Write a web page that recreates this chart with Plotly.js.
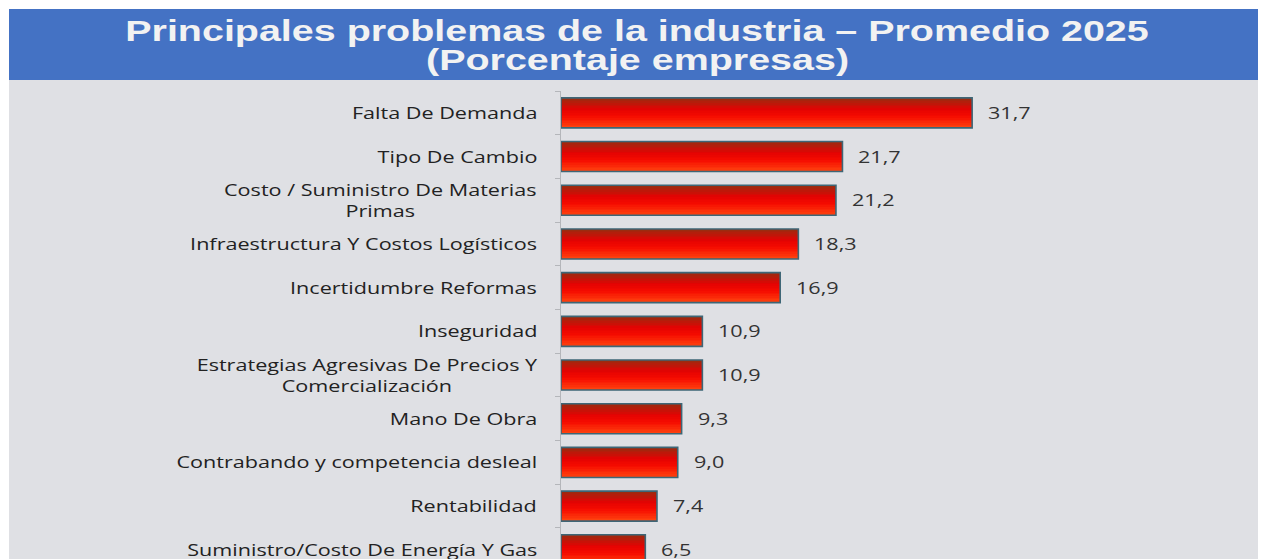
<!DOCTYPE html>
<html><head><meta charset="utf-8">
<script src="https://cdn.plot.ly/plotly-3.0.1.min.js"></script>
<style>html,body{margin:0;padding:0;background:#fff;} #chart{width:1261px;height:559px;}</style>
</head><body><div id="chart"></div>
<script>
// ---- data ----
const categories = [
  'Falta De Demanda',
  'Tipo De Cambio',
  'Costo / Suministro De Materias<br>Primas',
  'Infraestructura Y Costos Logísticos',
  'Incertidumbre Reformas',
  'Inseguridad',
  'Estrategias Agresivas De Precios Y<br>Comercialización',
  'Mano De Obra',
  'Contrabando y competencia desleal',
  'Rentabilidad',
  'Suministro/Costo De Energía Y Gas'
];
const values = [31.7, 21.7, 21.2, 18.3, 16.9, 10.9, 10.9, 9.3, 9.0, 7.4, 6.5];
const valueLabels = ['31,7', '21,7', '21,2', '18,3', '16,9', '10,9', '10,9', '9,3', '9,0', '7,4', '6,5'];
const titleLine1 = 'Principales problemas de la industria – Promedio 2025';
const titleLine2 = '(Porcentaje empresas)';

// ---- geometry (pixels) ----
const W = 1261, H = 559;
const L = 561, R = 1258, T = 91, B = 559;
const px2x = p => (p - L) / (R - L);
const px2y = p => (B - p) / (B - T);
const pxPerUnit = 12.97;
const xMax = (R - L) / pxPerUnit;
const TITLE_STRETCH = 1.36, LABEL_STRETCH = 1.35;

// ---- gradient bar as stacked strips ----
const BW = 0.687, N = 18;
const stops = [[0, [150, 46, 16]], [0.38, [228, 2, 2]], [0.62, [246, 12, 0]], [1, [255, 70, 16]]];
function gradColor(t) {
  for (let k = 0; k < stops.length - 1; k++) {
    const [t0, c0] = stops[k], [t1, c1] = stops[k + 1];
    if (t >= t0 && t <= t1) {
      const f = (t - t0) / (t1 - t0);
      const c = c0.map((v, j) => Math.round(v + (c1[j] - v) * f));
      return 'rgb(' + c.join(',') + ')';
    }
  }
  return 'rgb(255,70,16)';
}
const traces = [];
for (let i = 0; i < N; i++) {
  traces.push({
    type: 'bar', orientation: 'h', x: values, y: categories,
    width: BW / N + 0.002, offset: -BW / 2 + i * BW / N,
    marker: {color: gradColor((i + 0.5) / N), line: {width: 0}},
    hoverinfo: 'skip', showlegend: false
  });
}
traces.push({
  type: 'bar', orientation: 'h', x: values, y: categories,
  width: BW, offset: -BW / 2,
  marker: {color: 'rgba(0,0,0,0)', line: {color: '#3E6676', width: 1.6}},
  hoverinfo: 'skip', showlegend: false
});

const annotations = [];
categories.forEach((c, i) => {
  annotations.push({
    xref: 'paper', x: 0, yref: 'y', y: c, xanchor: 'right', xshift: -22,
    text: c, showarrow: false, align: 'center',
    font: {family: 'Open Sans, sans-serif', size: 16, color: '#222222'}
  });
  annotations.push({
    xref: 'x', x: values[i], yref: 'y', y: c, xanchor: 'left', xshift: 14,
    text: valueLabels[i], showarrow: false,
    font: {family: 'Open Sans, sans-serif', size: 16, color: '#333333'}
  });
});
annotations.push({
  xref: 'paper', x: px2x(637), yref: 'paper', y: px2y(60), xanchor: 'center', yanchor: 'middle',
  text: '<b>' + titleLine2 + '</b>', showarrow: false,
  font: {family: 'Liberation Sans, Arial, sans-serif', size: 29, color: '#F2F2F2'}
});

const shapes = [
  {type: 'rect', xref: 'paper', yref: 'paper', x0: px2x(0), x1: px2x(9), y0: px2y(H), y1: px2y(0), fillcolor: '#ffffff', line: {width: 0}, layer: 'below'},
  {type: 'rect', xref: 'paper', yref: 'paper', x0: px2x(0), x1: px2x(W), y0: px2y(9), y1: px2y(0), fillcolor: '#ffffff', line: {width: 0}, layer: 'below'},
  {type: 'rect', xref: 'paper', yref: 'paper', x0: px2x(1258), x1: px2x(W), y0: px2y(H), y1: px2y(0), fillcolor: '#ffffff', line: {width: 0}, layer: 'below'},
  {type: 'rect', xref: 'paper', yref: 'paper', x0: px2x(9), x1: px2x(1258), y0: px2y(80), y1: px2y(9), fillcolor: '#4472C4', line: {width: 0}, layer: 'below'}
];

const layout = {
  width: W, height: H,
  margin: {l: L, r: W - R, t: T, b: H - B, pad: 0},
  paper_bgcolor: '#DFE0E4', plot_bgcolor: '#DFE0E4',
  barmode: 'overlay', bargap: 0,
  title: {
    text: '<b>' + titleLine1 + '</b>', xref: 'container', x: 637 / W, xanchor: 'center',
    yref: 'container', y: 1 - 31 / H, yanchor: 'middle',
    font: {family: 'Liberation Sans, Arial, sans-serif', size: 29, color: '#F2F2F2'}
  },
  xaxis: {range: [0, xMax], showgrid: false, zeroline: false, showline: false, showticklabels: false, ticks: '', fixedrange: true},
  yaxis: {
    type: 'category', categoryorder: 'array', categoryarray: categories,
    range: [10.21, -0.5], showgrid: false, zeroline: false,
    showline: true, linecolor: '#B4B6BA', linewidth: 1,
    ticks: 'outside', tickson: 'boundaries', ticklen: 5, tickcolor: '#B4B6BA', tickwidth: 1,
    showticklabels: false, fixedrange: true
  },
  annotations: annotations, shapes: shapes, showlegend: false
};

// The reference's lettering is horizontally stretched; widen text to match.
function stretch(el, origin, s) {
  if (!el) return;
  el.style.transformBox = 'fill-box';
  el.style.transformOrigin = origin;
  el.style.transform = 'scaleX(' + s + ')';
}
Plotly.newPlot('chart', traces, layout, {displayModeBar: false, staticPlot: true}).then(gd => {
  stretch(gd.querySelector('.gtitle'), 'center', TITLE_STRETCH);
  gd.querySelectorAll('g.annotation').forEach(g => {
    const idx = +g.getAttribute('data-index');
    const t = g.querySelector('text');
    if (idx === annotations.length - 1) stretch(t, 'center', TITLE_STRETCH);
    else if (idx % 2 === 0) stretch(t, 'right center', LABEL_STRETCH);
    else stretch(t, 'left center', LABEL_STRETCH);
  });
});
</script>
</body></html>
